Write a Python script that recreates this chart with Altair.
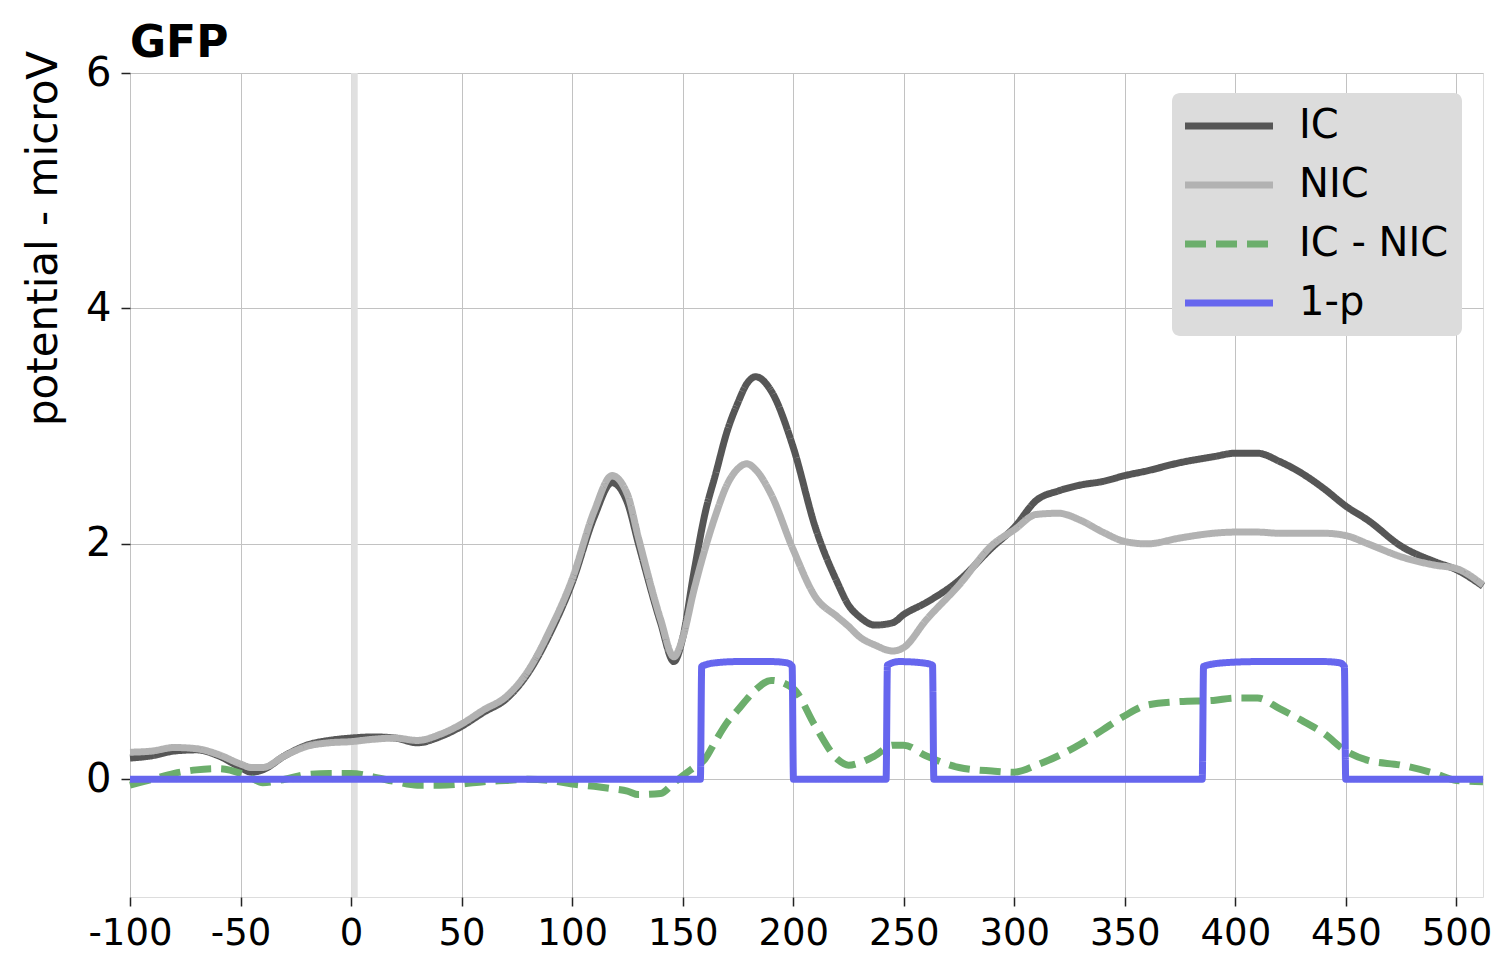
import altair as alt
import pandas as pd

# ---------------- data ----------------
time_ms = [-100, -90, -80, -70, -60, -50, -45, -40, -30, -20, -10, 0, 10, 20, 30, 40,
           50, 60, 70, 80, 90, 100, 110, 118, 125, 130, 140, 146, 150, 155, 160, 165,
           170, 175, 179, 183, 190, 200, 210, 220, 225, 230, 237, 245, 250, 260, 275,
           290, 300, 310, 320, 330, 340, 350, 360, 375, 390, 400, 410, 420, 430, 440,
           450, 460, 475, 490, 500, 512]

ic_gfp = [0.18, 0.20, 0.24, 0.25, 0.20, 0.10, 0.06, 0.08, 0.20, 0.29, 0.33, 0.35, 0.36,
          0.35, 0.31, 0.36, 0.45, 0.57, 0.68, 0.90, 1.24, 1.67, 2.23, 2.52, 2.35, 2.00,
          1.33, 1.00, 1.20, 1.75, 2.25, 2.60, 2.95, 3.20, 3.36, 3.42, 3.30, 2.82, 2.14,
          1.67, 1.48, 1.38, 1.31, 1.33, 1.40, 1.50, 1.69, 1.97, 2.14, 2.37, 2.45, 2.50,
          2.53, 2.58, 2.62, 2.69, 2.74, 2.77, 2.77, 2.70, 2.60, 2.47, 2.32, 2.20, 1.98,
          1.85, 1.78, 1.64]

nic_gfp = [0.23, 0.24, 0.27, 0.26, 0.21, 0.13, 0.10, 0.10, 0.20, 0.28, 0.31, 0.32, 0.34,
           0.35, 0.33, 0.38, 0.47, 0.59, 0.70, 0.92, 1.27, 1.70, 2.28, 2.58, 2.42, 2.05,
           1.36, 1.04, 1.20, 1.60, 1.95, 2.25, 2.50, 2.64, 2.68, 2.63, 2.42, 1.95, 1.55,
           1.38, 1.30, 1.21, 1.14, 1.09, 1.12, 1.35, 1.65, 1.99, 2.12, 2.25, 2.26, 2.20,
           2.10, 2.02, 2.00, 2.05, 2.09, 2.10, 2.10, 2.09, 2.09, 2.09, 2.07, 2.00, 1.89,
           1.82, 1.79, 1.65]

diff_gfp = [-0.05, 0.00, 0.05, 0.08, 0.09, 0.05, 0.01, -0.03, 0.00, 0.04, 0.05, 0.05, 0.02,
            -0.02, -0.05, -0.05, -0.04, -0.02, -0.01, 0.00, -0.01, -0.04, -0.06, -0.08,
            -0.10, -0.13, -0.12, -0.03, 0.03, 0.10, 0.17, 0.33, 0.48, 0.59, 0.68, 0.76,
            0.84, 0.77, 0.45, 0.17, 0.12, 0.14, 0.20, 0.29, 0.29, 0.20, 0.10, 0.07, 0.06,
            0.12, 0.20, 0.30, 0.42, 0.54, 0.63, 0.66, 0.67, 0.69, 0.69, 0.60, 0.50, 0.39,
            0.24, 0.16, 0.12, 0.05, -0.01, -0.02]

p_time_ms = [-100, 158, 158.6, 165, 175, 190, 197, 199.5, 200.1, 242, 242.6, 248, 258,
             263, 263.6, 385, 385.6, 395, 410, 440, 447, 449.3, 449.9, 512]
one_minus_p = [0, 0, 0.96, 0.99, 1.0, 1.0, 0.99, 0.96, 0, 0, 0.97, 1.0, 0.99, 0.97, 0,
               0, 0.96, 0.99, 1.0, 1.0, 0.99, 0.96, 0, 0]

series_names = ["IC", "NIC", "IC - NIC", "1-p"]
series_colors = ["#565656", "#b2b2b2", "#6cae6c", "#6666ee"]
series_dash = [[1, 0], [1, 0], [21, 10], [1, 0]]
series_width = [7, 7, 5, 4.5]

x_ticks = [-100, -50, 0, 50, 100, 150, 200, 250, 300, 350, 400, 450, 500]
y_ticks = [0, 2, 4, 6]
onset_start = [0]
onset_end = [3]

# ---------------- tables ----------------
rows = []
for name, vals in zip(series_names[:3], [ic_gfp, nic_gfp, diff_gfp]):
    for t, v in zip(time_ms, vals):
        rows.append({"t": t, "v": v, "series": name})
for t, v in zip(p_time_ms, one_minus_p):
    rows.append({"t": t, "v": v, "series": "1-p"})
df = pd.DataFrame(rows)

onset_df = pd.DataFrame({"start": onset_start, "end": onset_end})

FONT = "DejaVu Sans"
GRID = "#c2c2c2"

x_scale = alt.Scale(domain=[-100, 512], nice=False, zero=False)
y_scale = alt.Scale(domain=[-1, 6], nice=False, zero=False)

x_axis = alt.Axis(values=x_ticks, title=None, labelFontSize=37, labelFont=FONT,
                  labelColor="black", tickColor="#222222", tickSize=9, tickWidth=1.5,
                  labelPadding=9, domain=False, grid=True, gridColor=GRID,
                  gridWidth=1, labelFlush=False, labelOverlap=False,
                  labelExpr="'' + datum.value")
y_axis = alt.Axis(values=y_ticks, title="potential - microV", titleFontSize=42,
                  titleFont=FONT, titleFontWeight="normal", titleColor="black",
                  titleX=-87, titleY=165, titleAngle=270, titleAlign="center",
                  titleBaseline="middle",
                  labelFontSize=40, labelFont=FONT, labelColor="black",
                  tickColor="#222222", tickSize=9, tickWidth=1.5, labelPadding=10,
                  domain=False, grid=True, gridColor=GRID, gridWidth=1,
                  labelFlush=False, labelExpr="'' + datum.value")

legend = alt.Legend(title=None, orient="none", legendX=1042, legendY=20,
                    fillColor="#dcdcdc", cornerRadius=8, padding=13,
                    labelFontSize=40, labelFont=FONT, labelColor="black",
                    rowPadding=19, symbolType="M-4,0L4,0", symbolSize=484,
                    symbolOffset=24, labelOffset=50, symbolStrokeWidth=6,
                    labelLimit=400)

onset = alt.Chart(onset_df).mark_rect(color="#e0e0e0").encode(
    x=alt.X("start:Q", scale=x_scale, axis=x_axis),
    x2="end:Q",
)

lines = alt.Chart(df).mark_line(interpolate="monotone", strokeJoin="round").encode(
    x=alt.X("t:Q", scale=x_scale, axis=x_axis),
    y=alt.Y("v:Q", scale=y_scale, axis=y_axis),
    color=alt.Color("series:N", scale=alt.Scale(domain=series_names, range=series_colors),
                    legend=legend),
    strokeDash=alt.StrokeDash("series:N",
                              scale=alt.Scale(domain=series_names, range=series_dash),
                              legend=legend),
    strokeWidth=alt.StrokeWidth("series:N",
                                scale=alt.Scale(domain=series_names, range=series_width),
                                legend=None),
)

chart = alt.layer(onset, lines).properties(
    width=1353,
    height=824,
    title=alt.TitleParams("GFP", anchor="start", fontSize=44, font=FONT,
                          fontWeight="bold", color="black", offset=6, dy=22,
                          frame="group"),
    autosize=alt.AutoSizeParams(type="none"),
    padding={"left": 122, "top": 65, "right": 9, "bottom": 58},
).configure_view(
    fill="#f5f5f5", strokeWidth=0
).configure(background="white")

chart.save("out.html", embed_options={"renderer": "svg", "actions": False})
